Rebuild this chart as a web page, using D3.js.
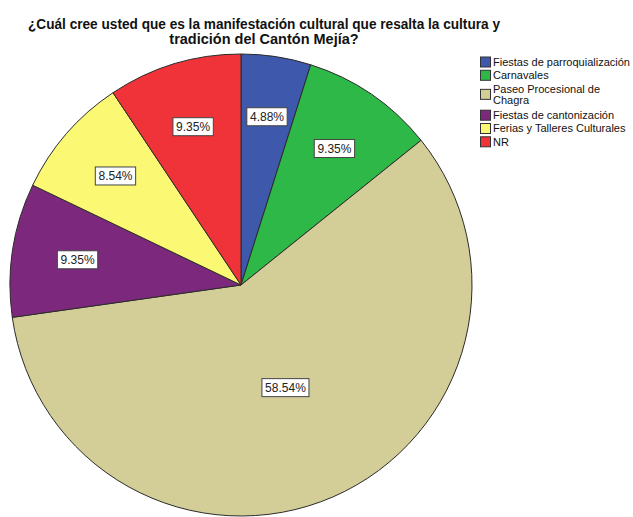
<!DOCTYPE html>
<html>
<head>
<meta charset="utf-8">
<script src="https://cdn.jsdelivr.net/npm/d3@7"></script>
<style>
  html, body { margin: 0; padding: 0; background: #fff; }
  svg { display: block; }
</style>
</head>
<body>
<svg id="chart" width="633" height="517"></svg>
<script>
// Survey answers: share of respondents per cultural event (percent)
const categories = [
  "Fiestas de parroquialización",
  "Carnavales",
  "Paseo Procesional de Chagra",
  "Fiestas de cantonización",
  "Ferias y Talleres Culturales",
  "NR"
];
const percents = [4.88, 9.35, 58.54, 9.35, 8.54, 9.35];
const colors = ["#3E58AC", "#2EB848", "#D3CE97", "#7C287D", "#FBF873", "#EF3338"];
const legendLines = [
  ["Fiestas de parroquialización"],
  ["Carnavales"],
  ["Paseo Procesional de", "Chagra"],
  ["Fiestas de cantonización"],
  ["Ferias y Talleres Culturales"],
  ["NR"]
];
const titleLines = [
  "¿Cuál cree usted que es la manifestación cultural que resalta la cultura y",
  "tradición del Cantón Mejía?"
];

const W = 633, H = 517;
const cx = 241, cy = 285, R = 231;
const font = "Arial, 'Liberation Sans', sans-serif";

const svg = d3.select("#chart");

// Title
svg.append("text")
  .attr("x", 264).attr("y", 29)
  .attr("text-anchor", "middle")
  .style("font-family", font).style("font-size", "14.5px").style("font-weight", "bold")
  .attr("fill", "#111")
  .selectAll("tspan").data(titleLines).join("tspan")
  .attr("x", 264).attr("dy", (d, i) => i === 0 ? 0 : 15)
  .attr("textLength", (d, i) => i === 0 ? 472 : null)
  .attr("lengthAdjust", "spacingAndGlyphs")
  .text(d => d);

const data = categories.map((c, i) => ({ category: c, value: percents[i], color: colors[i] }));

const pie = d3.pie().value(d => d.value).sort(null);
const arcs = pie(data);
const arc = d3.arc().innerRadius(0).outerRadius(R);

const g = svg.append("g").attr("transform", `translate(${cx},${cy})`);

g.selectAll("path.slice").data(arcs).join("path")
  .attr("class", "slice")
  .attr("d", arc)
  .attr("fill", d => d.data.color)
  .attr("stroke", "#2b2b2b")
  .attr("stroke-width", 1)
  .attr("stroke-linejoin", "round");

// Value labels: boxed percentages placed inside each slice,
// pulled toward the centre for wide slices
const labelRadius = d => R * (0.76 - 0.075 * (d.endAngle - d.startAngle));
const labels = g.selectAll("g.lbl").data(arcs).join("g")
  .attr("class", "lbl")
  .attr("transform", d => {
    const a = (d.startAngle + d.endAngle) / 2;
    const r = labelRadius(d);
    return `translate(${r * Math.sin(a)},${-r * Math.cos(a)})`;
  });

labels.each(function(d) {
  const sel = d3.select(this);
  const t = sel.append("text")
    .attr("text-anchor", "middle")
    .attr("dy", "0.36em")
    .style("font-family", font).style("font-size", "12px")
    .attr("fill", "#222")
    .text(d3.format(".2f")(d.data.value) + "%");
  const bb = t.node().getBBox();
  sel.insert("rect", "text")
    .attr("x", -bb.width / 2 - 3)
    .attr("y", -9)
    .attr("width", bb.width + 6)
    .attr("height", 18)
    .attr("fill", "#fff")
    .attr("stroke", "#444")
    .attr("stroke-width", 1);
});

// Legend
const legend = svg.append("g").attr("transform", "translate(480,0)");
let ly = 62;
legendLines.forEach((lines, i) => {
  const mid = ly + (lines.length - 1) * 11.5 / 2;
  legend.append("rect")
    .attr("x", 0.5).attr("y", mid - 5)
    .attr("width", 10).attr("height", 10)
    .attr("fill", colors[i])
    .attr("stroke", "#333").attr("stroke-width", 1);
  const t = legend.append("text")
    .style("font-family", font).style("font-size", "11px")
    .attr("fill", "#111");
  lines.forEach((s, j) => {
    t.append("tspan")
      .attr("x", 13).attr("y", ly + j * 11.5).attr("dy", "0.36em")
      .text(s);
  });
  ly += lines.length === 1 ? 13.3 : 26.6;
});
</script>
</body>
</html>
